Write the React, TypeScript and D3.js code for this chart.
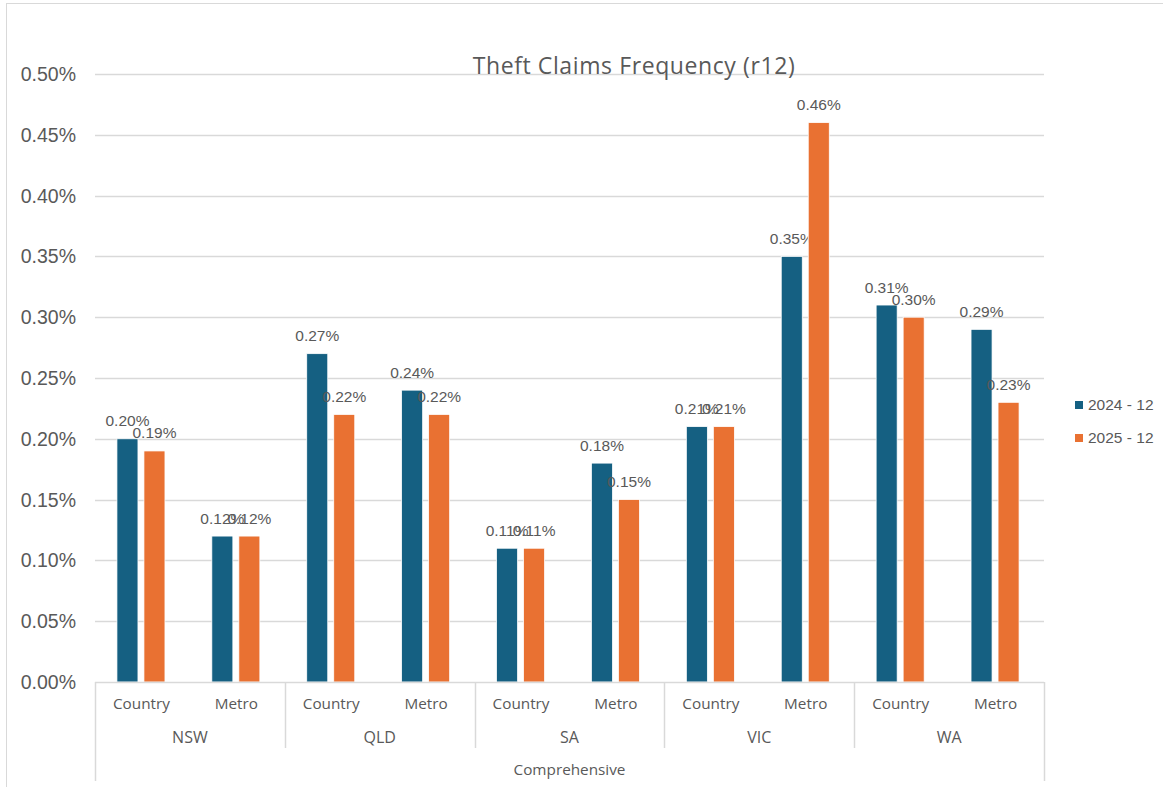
import React from "react";
import * as d3 from "d3";

const states = ["NSW", "QLD", "SA", "VIC", "WA"];
const regions = ["Country", "Metro"];
const seriesNames = ["2024 - 12", "2025 - 12"];
const series2024 = [0.2, 0.12, 0.27, 0.24, 0.11, 0.18, 0.21, 0.35, 0.31, 0.29];
const series2025 = [0.19, 0.12, 0.22, 0.22, 0.11, 0.15, 0.21, 0.46, 0.3, 0.23];
const yTicks = [0, 0.05, 0.1, 0.15, 0.2, 0.25, 0.3, 0.35, 0.4, 0.45, 0.5];
const colors = ["#156082", "#E97132"];
const title = "Theft Claims Frequency (r12)";
const topLabel = "Comprehensive";

const W = 1163;
const H = 787;
const left = 95;
const right = 1044;
const top = 74;
const bottom = 682;

export default function App() {
  const cats = states.flatMap((s) => regions.map((r) => `${s}|${r}`));
  const x = d3.scaleBand<string>().domain(cats).range([left - 1.5, right - 1.5]).paddingInner(0.494).paddingOuter(0.247);
  const xs = d3.scaleBand<string>().domain(seriesNames).range([0, x.bandwidth()]).paddingInner(0.222).paddingOuter(0);
  const y = d3.scaleLinear().domain([0, 0.5]).range([bottom, top]);
  const step = (right - left) / cats.length;
  const data = [series2024, series2025];
  const fmt = (v: number) => v.toFixed(2) + "%";
  const grey = "#595959";
  const line = "#d9d9d9";

  return (
    <svg width={W} height={H} style={{ position: "absolute", left: 0, top: 0, background: "#fff" }}>
      <rect x={6.5} y={3.5} width={1180} height={820} fill="#fff" stroke={line} />
      {yTicks.map((t) => (
        <g key={t}>
          {t > 0 && <line x1={left} x2={right} y1={Math.round(y(t)) + 0.5} y2={Math.round(y(t)) + 0.5} stroke={line} strokeWidth={1.5} />}
          <text x={76} y={y(t) + 7} textAnchor="end" fontFamily="Liberation Sans, Arial" fontSize={19.5} fill={grey}>
            {fmt(t)}
          </text>
        </g>
      ))}
      <text x={634} y={74} textAnchor="middle" fontFamily="Open Sans" fontSize={23} letterSpacing={0.6} fill={grey}>
        {title}
      </text>
      {cats.map((c, i) =>
        data.map((s, k) => {
          const bx = (x(c) as number) + (xs(seriesNames[k]) as number);
          const bw = xs.bandwidth();
          const v = s[i];
          return (
            <g key={c + k}>
              <rect x={bx} y={y(v)} width={bw} height={bottom - y(v)} fill={colors[k]} stroke="#fff" strokeWidth={0.75} />
              <text x={bx + bw / 2} y={y(v) - 12.5} textAnchor="middle" fontFamily="Liberation Sans, Arial" fontSize={15.5} fill={grey}>
                {fmt(v)}
              </text>
            </g>
          );
        })
      )}
      <line x1={left} x2={right} y1={bottom + 0.5} y2={bottom + 0.5} stroke={line} strokeWidth={1.5} />
      <line x1={left + 0.5} x2={left + 0.5} y1={bottom} y2={781} stroke={line} strokeWidth={1.5} />
      <line x1={right + 0.5} x2={right + 0.5} y1={bottom} y2={781} stroke={line} strokeWidth={1.5} />
      {states.slice(1).map((s, j) => {
        const xx = Math.round(left + (j + 1) * 2 * step) + 0.5;
        return <line key={s} x1={xx} x2={xx} y1={bottom} y2={748} stroke={line} strokeWidth={1.5} />;
      })}
      {cats.map((c, i) => (
        <text key={c} x={left + (i + 0.5) * step - 1} y={709} textAnchor="middle" fontFamily="Open Sans" fontSize={15.3} fill={grey}>
          {regions[i % 2]}
        </text>
      ))}
      {states.map((s, j) => (
        <text key={s} x={left + (j + 0.5) * 2 * step} y={743} textAnchor="middle" fontFamily="Open Sans" fontSize={16} fill={grey}>
          {s}
        </text>
      ))}
      <text x={(left + right) / 2} y={775} textAnchor="middle" fontFamily="Open Sans" fontSize={15.3} fill={grey}>
        {topLabel}
      </text>
      {seriesNames.map((n, k) => (
        <g key={n}>
          <rect x={1075} y={401 + k * 33} width={8} height={8} fill={colors[k]} />
          <text x={1088} y={409.5 + k * 33} fontFamily="Liberation Sans, Arial" fontSize={15.5} fill={grey}>
            {n}
          </text>
        </g>
      ))}
    </svg>
  );
}
